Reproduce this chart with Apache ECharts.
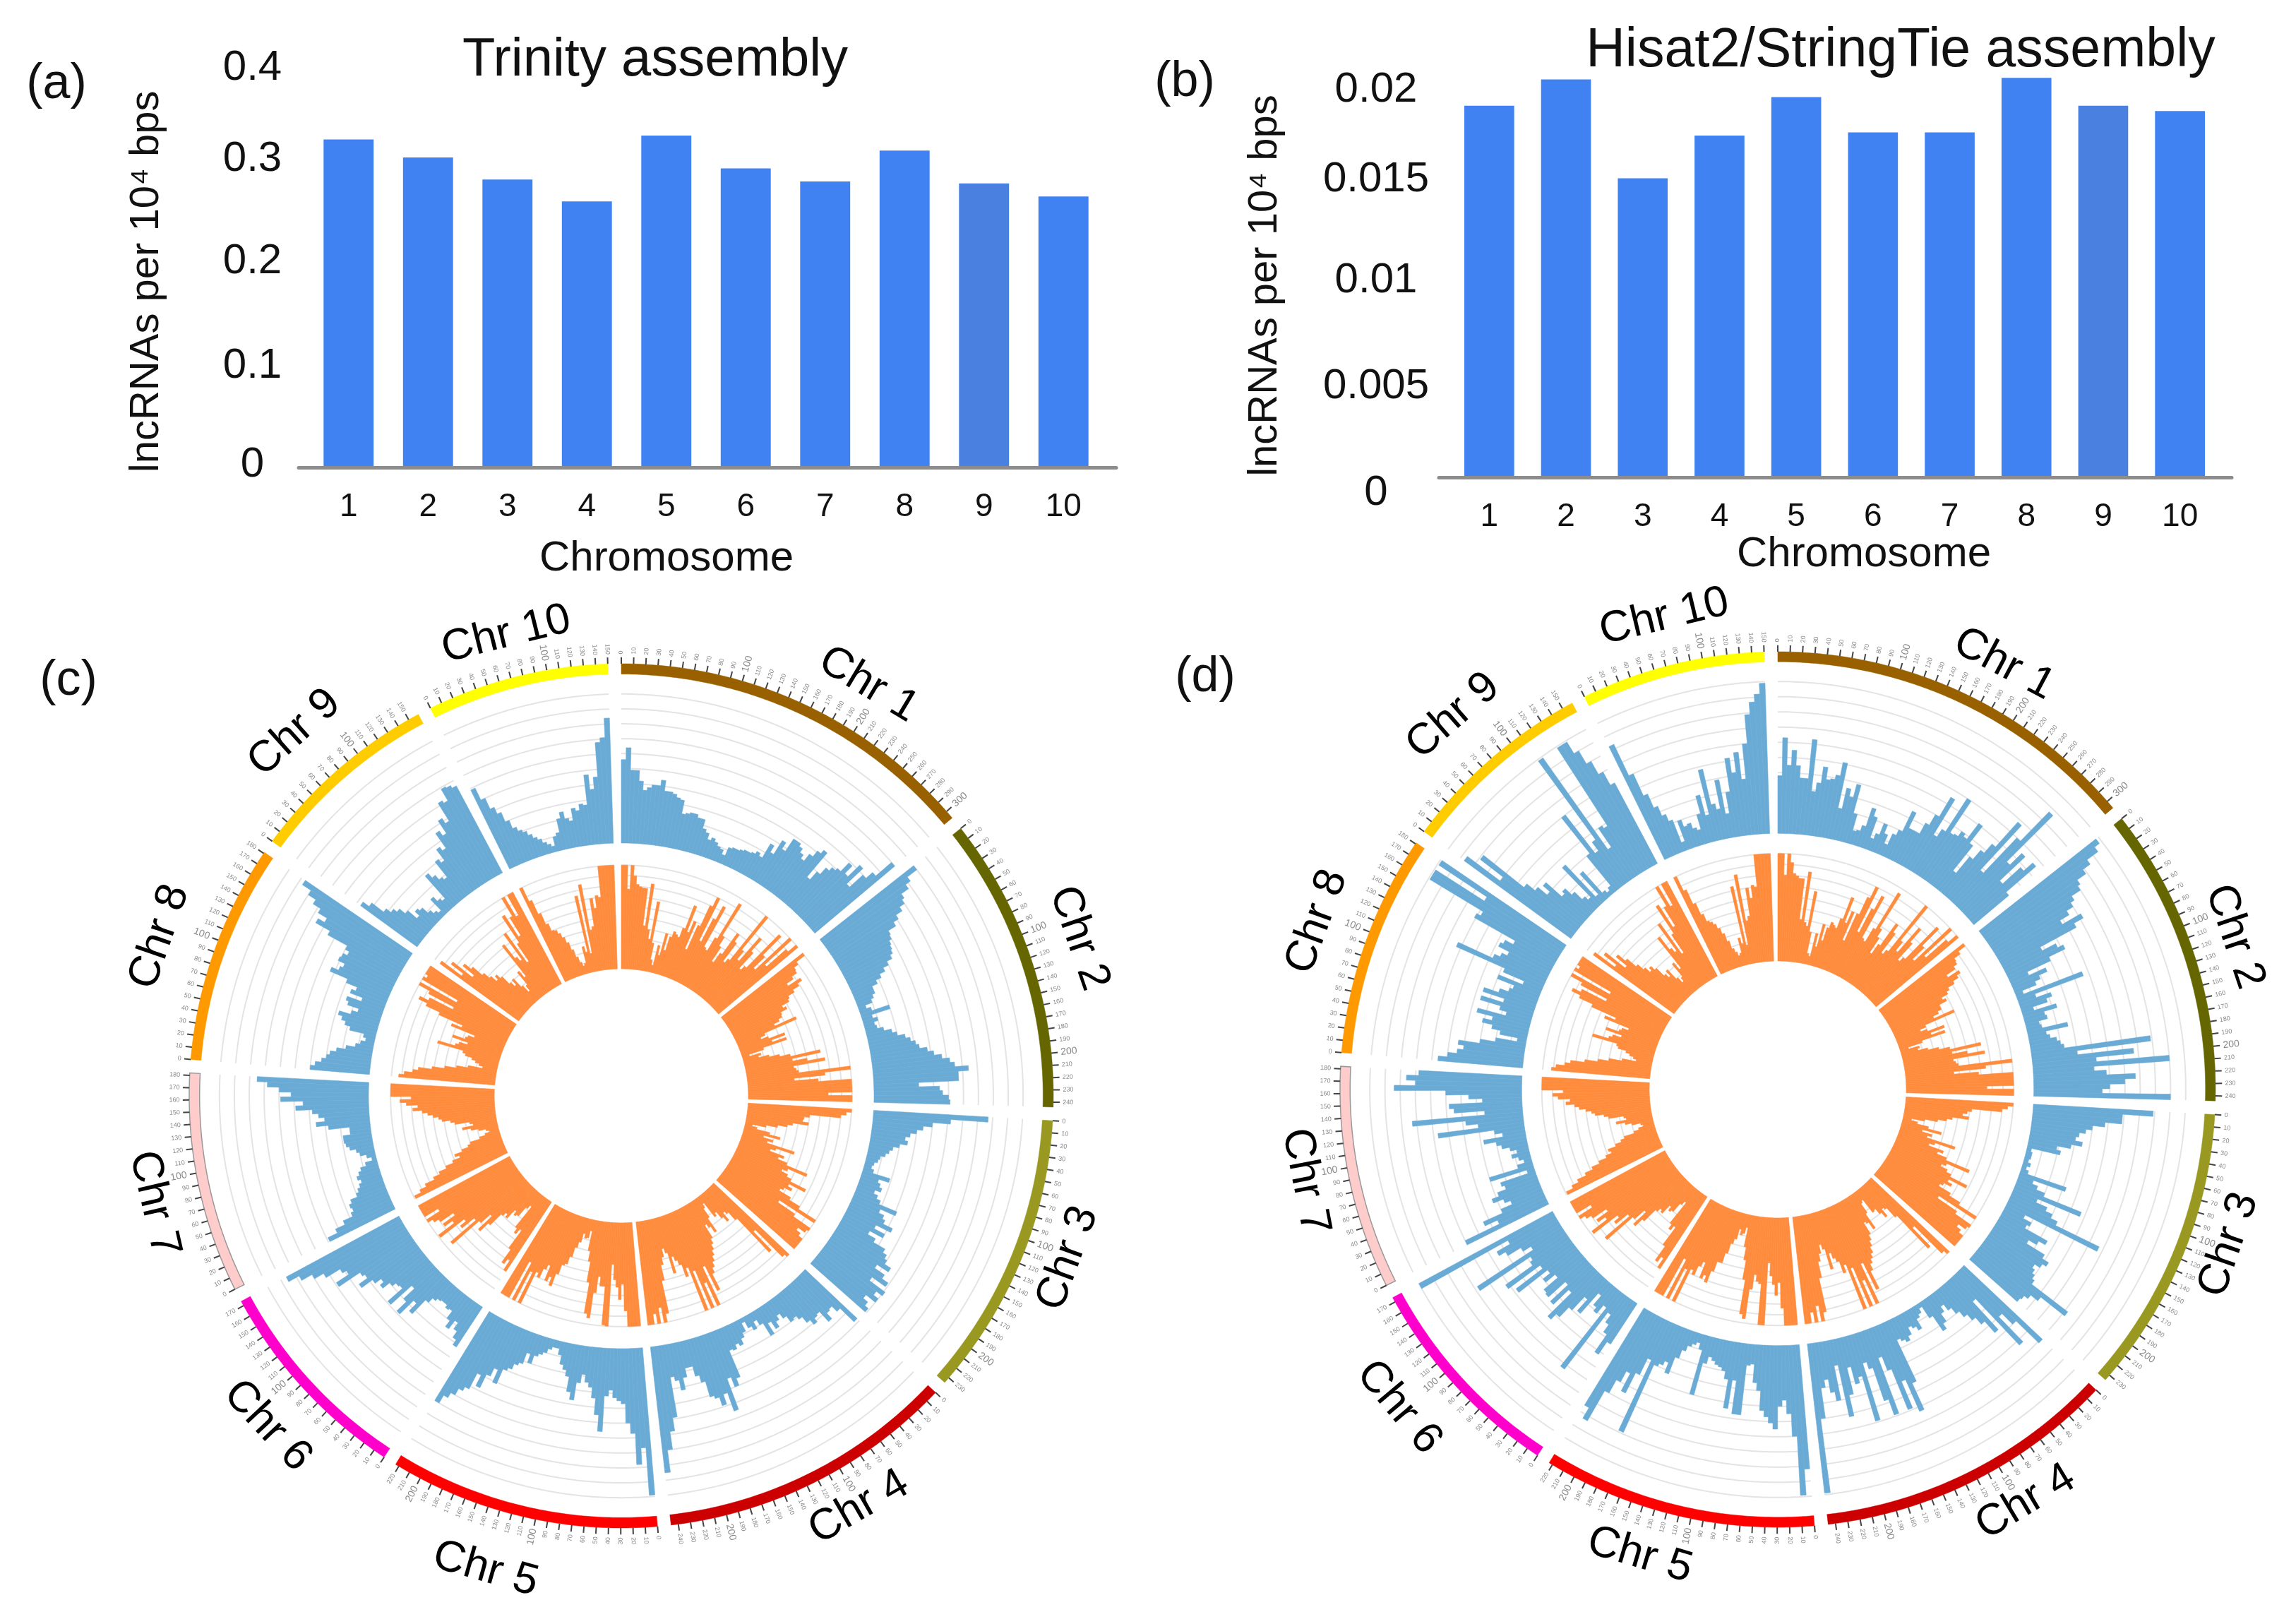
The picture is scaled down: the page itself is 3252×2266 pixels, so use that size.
<!DOCTYPE html>
<html><head><meta charset="utf-8">
<script src="https://cdn.jsdelivr.net/npm/echarts@6/dist/echarts.min.js"></script>
<style>html,body{margin:0;padding:0;background:#fff}#c{width:3252px;height:2266px}</style></head>
<body><div id="c"></div>
<script>
const categories = ['1','2','3','4','5','6','7','8','9','10'];
const trinityValues = [0.328,0.310,0.288,0.266,0.332,0.299,0.286,0.317,0.284,0.271];
const hisatValues = [0.01843,0.01974,0.01483,0.01695,0.01886,0.01711,0.01711,0.01982,0.01843,0.01817];
const trinityTicks = [0,0.1,0.2,0.3,0.4];
const hisatTicks = [0,0.005,0.01,0.015,0.02];
const chrNames = ['Chr 1','Chr 2','Chr 3','Chr 4','Chr 5','Chr 6','Chr 7','Chr 8','Chr 9','Chr 10'];
const chrLengths = [307,244,235,246,223,174,182,181,159,150];
const chrColors = ['#996000','#666600','#999922','#CC0000','#FF0000','#FF00CC','#FFCCCC','#FF9900','#FFCC00','#FFFF00'];

// Track heights in percent of the track, one list per chromosome, clockwise.
const cBlue = [
[56,64,49,49,42,36,38,40,40,44,37,37,36,34,33,24,25,26,26,24,24,18,16,12,14,12,10,9,6,12,13,13,14,15,15,16,18,16,27,22,33,28,38,38,36,33,30,36,41,44,23,30,36,39,41,49,42,53,38,50,56,70],
[80,72,68,62,60,56,51,47,41,40,38,37,36,34,30,26,22,18,14,14,12,10,5,8,20,7,10,7,8,12,17,20,25,28,31,33,38,42,47,52,55,64,57,57,30,44,46,50,51],
[77,52,40,34,30,26,23,25,20,16,14,12,9,8,6,5,7,19,12,14,16,12,15,18,31,20,24,26,33,22,30,20,26,35,38,40,45,36,44,49,38,51,46,50,42,46,49],
[48,35,30,31,36,27,28,31,27,22,19,20,15,11,14,18,12,20,10,6,11,8,3,9,12,16,14,17,16,35,40,33,55,42,49,43,41,30,25,18,18,24,32,25,22,49,58,70,85],
[99,67,78,57,50,37,35,33,28,32,56,45,34,27,24,19,25,37,32,22,18,15,9,5,5,7,10,12,14,20,14,22,24,28,30,41,32,38,48,40,52,55,60,64,70],
[32,28,23,18,25,20,14,15,13,13,14,16,20,33,26,39,30,20,39,26,27,30,36,33,38,47,40,42,59,49,52,63,70,78,86],
[49,42,35,28,26,27,25,20,18,16,14,16,14,12,8,3,6,10,12,16,18,19,19,14,14,28,36,30,34,38,49,44,59,52,60,68,75],
[40,37,33,30,28,24,18,12,9,6,8,18,22,25,28,20,16,24,26,16,25,22,30,43,38,36,41,40,37,40,55,66,61,68,74,80,87],
[47,42,32,28,25,20,12,16,14,9,6,4,14,10,8,28,24,20,18,31,28,37,34,46,42,52,48,62,60,69,68,66],
[59,50,42,37,30,24,21,19,16,13,11,8,6,4,10,12,21,25,20,18,26,24,28,27,47,37,45,68,71,84]
];
const cOrange = [
[100,100,77,100,90,82,80,79,79,43,84,40,31,68,28,12,7,27,18,40,24,38,44,42,40,50,74,48,60,32,58,80,90,45,70,85,42,40,55,95,60,50,34,45,70,62,40,45,100,60,50,80,65,45,50,95,70,55,100,65,90,100],
[100,90,85,84,78,70,84,79,72,65,63,55,58,51,50,46,40,62,28,23,30,46,32,46,22,7,18,15,25,35,45,74,46,60,77,46,48,50,100,75,45,68,100,100,100,100,77,100,100],
[100,95,90,60,55,54,60,45,40,31,20,7,12,25,36,20,30,25,53,35,30,45,40,50,72,53,48,55,60,77,60,65,58,55,68,80,100,60,80,100,98,90,95,100,100,100,100],
[100,97,60,85,40,30,27,36,30,22,25,8,12,22,37,30,26,40,45,50,55,60,65,70,87,60,100,75,100,60,100,55,63,50,45,40,56,35,30,38,45,60,92,100,85,100,90,100,100],
[100,100,100,100,85,59,74,62,55,40,100,99,62,62,53,69,94,90,60,40,30,11,18,19,15,24,30,40,48,50,60,73,65,70,55,60,70,66,100,68,100,60,100,100,100],
[80,69,75,60,39,45,40,15,19,30,32,28,39,36,40,55,66,48,60,94,62,77,70,99,80,89,75,90,95,100,85,100,100,100,100],
[99,92,85,75,68,60,52,44,48,40,33,30,20,14,9,12,19,26,34,23,26,40,44,52,55,60,65,70,79,74,85,91,80,100,100,100,100],
[93,88,80,75,62,50,39,28,14,18,22,26,33,36,62,45,42,34,50,38,36,30,55,45,70,85,94,85,60,88,100,60,100,97,100,100,100],
[94,70,85,61,75,67,55,48,41,45,40,30,25,31,20,12,18,33,25,62,45,40,70,35,55,85,60,80,100,78,100,100],
[100,85,70,58,50,49,45,40,34,26,18,12,8,10,26,20,75,18,85,40,43,70,60,72,70,100,100,100,100,100]
];
const dBlue = [
[38,63,45,55,45,37,37,63,29,35,46,38,39,42,51,21,35,30,39,20,9,10,14,27,22,8,12,20,14,8,16,20,35,24,24,24,32,40,55,28,34,60,35,36,40,38,51,37,16,30,38,46,68,28,60,87,44,55,32,48,56,30],
[98,94,85,79,72,70,63,60,55,48,62,55,28,38,42,30,13,25,19,15,5,46,12,22,18,8,23,14,15,9,10,27,12,14,18,20,22,79,30,67,42,90,40,48,67,60,50,45,90],
[79,59,59,48,40,36,32,30,35,28,19,22,3,4,4,3,5,3,5,32,10,14,20,47,17,25,30,35,67,14,20,18,35,30,24,38,43,40,36,38,40,42,72,52,46,43,42],
[71,50,40,63,21,46,36,30,25,20,15,10,14,20,24,12,3,6,8,15,12,10,15,18,16,14,44,63,40,59,30,20,59,48,25,20,59,28,32,20,38,52,17,40,34,25,30,50,99],
[82,99,60,45,36,40,55,51,47,43,30,25,13,14,47,47,25,44,25,20,18,17,15,13,18,40,10,6,8,10,14,20,32,25,28,30,79,28,40,55,42,50,60,83,75],
[32,42,28,22,16,63,14,21,18,10,28,18,30,39,44,22,36,20,35,34,22,30,24,48,26,52,30,28,68,24,30,40,45,35,100],
[60,35,44,30,22,26,33,28,22,24,5,30,10,5,8,12,8,12,17,20,28,15,20,57,30,38,73,25,45,48,26,35,50,84,70,76,68],
[56,50,44,40,44,30,20,6,18,24,31,25,36,17,22,36,21,36,26,20,18,30,13,28,63,38,34,30,38,36,30,61,58,99,99,61,99],
[87,60,79,45,38,30,36,22,24,18,11,8,35,6,24,5,3,5,30,60,28,35,99,25,40,38,99,99,90,80,70,60],
[83,60,44,34,27,22,6,20,15,16,12,10,20,32,18,48,24,20,39,16,30,52,42,55,37,60,79,87,92,99]
];
const dOrange = [
[100,100,80,100,92,82,80,78,78,40,85,38,35,68,30,10,8,30,18,40,25,38,44,42,40,50,72,48,60,32,60,78,90,45,70,85,42,40,55,95,58,50,34,45,70,62,40,45,100,60,50,80,65,45,50,92,70,55,100,65,90,100],
[100,92,85,84,80,70,82,78,72,65,62,55,58,50,50,46,40,60,30,24,30,46,32,45,22,8,18,16,25,35,45,74,46,60,76,46,48,50,100,75,45,68,100,100,100,100,75,100,100],
[100,95,90,62,58,54,60,45,40,32,20,8,14,25,38,20,30,26,54,35,30,45,40,50,74,52,48,55,60,78,60,65,58,55,68,80,100,60,82,100,98,90,95,100,100,100,100],
[100,96,60,84,42,30,28,36,30,24,25,10,12,22,38,30,28,40,45,50,56,60,64,70,88,60,100,75,100,60,100,55,62,50,46,40,55,35,30,38,45,60,92,100,85,100,90,100,100],
[100,100,100,100,84,60,72,62,54,42,100,100,62,60,54,68,96,92,60,42,30,12,18,20,15,25,30,40,50,50,60,72,66,70,55,60,70,66,100,68,100,60,100,100,100],
[80,70,76,60,40,45,40,16,20,30,32,28,38,36,40,55,64,48,60,92,62,76,70,98,80,88,75,90,95,100,85,100,100,100,100],
[99,92,85,76,68,60,52,46,48,40,34,30,20,15,10,12,20,26,34,24,26,40,44,52,55,60,66,70,78,74,85,90,80,100,100,100,100],
[92,88,80,75,62,50,40,28,15,18,22,26,34,36,60,45,42,34,50,38,36,30,55,45,70,84,93,85,60,88,100,60,100,97,100,100,100],
[93,70,85,62,75,66,55,48,42,45,40,30,26,32,20,14,18,33,25,60,45,40,70,35,55,85,60,80,100,78,100,100],
[100,85,70,58,50,48,45,40,34,26,18,14,10,12,26,20,74,18,84,40,44,70,60,72,70,100,100,100,100,100]
];

// Layout, separate from the data.
const FONT = '"Liberation Sans", Arial, sans-serif';
const GAP_MB = 11.06, genomeTotal = chrLengths.reduce((a,b)=>a+b,0) + GAP_MB*chrLengths.length;
const chrStart = []; chrLengths.reduce((p,l,i)=>{chrStart[i]=p;return p+l+GAP_MB;},0);
const panels = [
 {cx:880,cy:1552,R:612,blue:[58.5,93],orange:[29.4,53.4],ring:[97.6,100],blueData:cBlue,orangeData:cOrange,
  labelR:[111,112,110,110,114,112,111,113,113,110],labelA:[31,71,110,150,196,227,257,289,318,346]},
 {cx:2518,cy:1543,R:620,blue:[58.5,93.2],orange:[29.35,53.9],ring:[97.7,100],blueData:dBlue,orangeData:dOrange,
  labelR:[110,110,109,110,111,113,110,112,113,111],labelA:[28,71.5,109,149,196.5,230,259,290,319,346.5]}
];
const degToMb = a => a/360*genomeTotal;
const mbToDeg = m => m/genomeTotal*360;

function arc(api,r,s,e,rev){
  const n = Math.max(2,Math.ceil(mbToDeg(e-s)/0.5)), pts=[];
  for(let i=0;i<=n;i++){const t=rev?1-i/n:i/n; pts.push(api.coord([r,s+(e-s)*t]));}
  return pts;
}
function barSeries(pi,track,data,color){
  const [r0,r1]=panels[pi][track], rows=[];
  data.forEach((list,c)=>list.forEach((v,b)=>rows.push([c,b,v,list.length])));
  return {type:'custom',coordinateSystem:'polar',polarIndex:pi,silent:true,z:5,clip:false,
    data:rows,encode:{},
    renderItem(p,api){
      const c=api.value(0),b=api.value(1),v=api.value(2),n=api.value(3);
      const w=chrLengths[c]/n,s=chrStart[c]+b*w,e=s+w,rr=r0+(r1-r0)*v/100;
      return {type:'polygon',shape:{points:[api.coord([r0,s]),api.coord([rr,s]),api.coord([rr,e]),api.coord([r0,e])]},
        style:{fill:color,stroke:color,lineWidth:0.6}};
    }};
}
function gridSeries(pi){
  const P=panels[pi], rows=[];
  chrLengths.forEach((l,c)=>{for(let k=1;k<=10;k++){rows.push([c,P.blue[0]+(P.blue[1]-P.blue[0])*k/10]);rows.push([c,P.orange[0]+(P.orange[1]-P.orange[0])*k/10]);}});
  return {type:'custom',coordinateSystem:'polar',polarIndex:pi,silent:true,z:3,clip:false,data:rows,encode:{},
    renderItem(p,api){const c=api.value(0),r=api.value(1);
      return {type:'polyline',shape:{points:arc(api,r,chrStart[c],chrStart[c]+chrLengths[c])},style:{stroke:'#E4E4E4',lineWidth:2,fill:null}};}};
}
function ringSeries(pi){
  const P=panels[pi];
  return {type:'custom',coordinateSystem:'polar',polarIndex:pi,silent:true,z:6,clip:false,data:chrLengths.map((l,i)=>[i]),encode:{},
    renderItem(p,api){const c=api.value(0),s=chrStart[c],e=s+chrLengths[c];
      return {type:'polygon',shape:{points:arc(api,P.ring[1],s,e).concat(arc(api,P.ring[0],s,e,true))},
        style:{fill:chrColors[c],stroke:c===6?'#999':chrColors[c],lineWidth:c===6?1.5:0.5}};}};
}
function tickSeries(pi){
  const rows=[];
  chrLengths.forEach((l,c)=>{for(let m=0;m<=l;m+=10)rows.push([c,m]);});
  return {type:'custom',coordinateSystem:'polar',polarIndex:pi,silent:true,z:6,clip:false,data:rows,encode:{},
    renderItem(p,api){
      const c=api.value(0),m=api.value(1),pos=chrStart[c]+m,deg=mbToDeg(pos);
      const a=api.coord([100,pos]),b=api.coord([101.5,pos]),t=api.coord([102.2,pos]);
      const big=m%100===0&&m>0,right=deg<180;
      return {type:'group',children:[
        {type:'line',shape:{x1:a[0],y1:a[1],x2:b[0],y2:b[1]},style:{stroke:'#444',lineWidth:2}},
        {type:'text',x:t[0],y:t[1],rotation:(right?90-deg:270-deg)*Math.PI/180,
         style:{text:String(m),fontFamily:FONT,fontSize:big?14:9,fill:'#8a8a8a',align:right?'left':'right',verticalAlign:'middle'}}
      ]};
    }};
}
function labelSeries(pi){
  const P=panels[pi];
  return {type:'custom',coordinateSystem:'polar',polarIndex:pi,silent:true,z:7,clip:false,data:chrNames.map((n,i)=>[i]),encode:{},
    renderItem(p,api){const i=api.value(0),ang=P.labelA[i],pt=api.coord([P.labelR[i],degToMb(ang)]);
      const rot=(ang>90&&ang<270)?180-ang:-ang;
      return {type:'text',x:pt[0],y:pt[1],rotation:rot*Math.PI/180,
        style:{text:chrNames[i],fontFamily:FONT,fontSize:62,fill:'#000',align:'center',verticalAlign:'middle'}};}};
}
function barColors(v,i){return i===8?'#4A80E0':'#4082F2';}

// The printed tick labels sit slightly off the even scale; each one is nudged (px, + = down).
function tickLabel(ticks,nudge,margin,digits){
  const rich={};
  ticks.forEach((t,i)=>{const d=nudge[i];
    rich['t'+i]={fontFamily:FONT,fontSize:60,color:'#111',padding:d>=0?[2*d,0,0,0]:[0,0,-2*d,0]};});
  return {align:'center',margin,rich,fontFamily:FONT,fontSize:60,color:'#111',
    formatter:v=>{const i=ticks.findIndex(t=>Math.abs(t-v)<1e-9);return '{t'+i+'|'+v+'}';}};
}

const option={
 animation:false,backgroundColor:'#fff',
 title:[
  {text:'Trinity assembly',left:928,top:86,textAlign:'center',textVerticalAlign:'middle',padding:0,textStyle:{fontFamily:FONT,fontSize:76,fontWeight:'normal',color:'#111'}},
  {text:'Hisat2/StringTie assembly',left:2692,top:73,textAlign:'center',textVerticalAlign:'middle',padding:0,textStyle:{fontFamily:FONT,fontSize:77,fontWeight:'normal',color:'#111'}},
  {text:'(a)',left:80,top:120,textAlign:'center',textVerticalAlign:'middle',padding:0,textStyle:{fontFamily:FONT,fontSize:70,fontWeight:'normal',color:'#111'}},
  {text:'(b)',left:1678,top:117,textAlign:'center',textVerticalAlign:'middle',padding:0,textStyle:{fontFamily:FONT,fontSize:70,fontWeight:'normal',color:'#111'}},
  {text:'(c)',left:97,top:965,textAlign:'center',textVerticalAlign:'middle',padding:0,textStyle:{fontFamily:FONT,fontSize:70,fontWeight:'normal',color:'#111'}},
  {text:'(d)',left:1707,top:960,textAlign:'center',textVerticalAlign:'middle',padding:0,textStyle:{fontFamily:FONT,fontSize:70,fontWeight:'normal',color:'#111'}}
 ],
 grid:[
  {left:437.5,top:95.6,width:1125,height:566.4},
  {left:2055,top:105,width:1087,height:571},
  {left:423,top:95.6,width:1158,height:566.4},
  {left:2038,top:105,width:1123,height:571}
 ],
 xAxis:[
  {gridIndex:0,type:'category',data:categories,axisLine:{show:false},axisTick:{show:false},
   axisLabel:{fontFamily:FONT,fontSize:46,color:'#111',margin:33},
   name:'Chromosome',nameLocation:'middle',nameGap:99,nameTextStyle:{fontFamily:FONT,fontSize:60,color:'#111',padding:[0,112,0,0]}},
  {gridIndex:1,type:'category',data:categories,axisLine:{show:false},axisTick:{show:false},
   axisLabel:{fontFamily:FONT,fontSize:46,color:'#111',margin:33},
   name:'Chromosome',nameLocation:'middle',nameGap:72,nameTextStyle:{fontFamily:FONT,fontSize:60,color:'#111',padding:[0,0,0,83]}},
  {gridIndex:2,type:'value',z:4,min:0,max:1,axisLine:{show:true,lineStyle:{color:'#8C8C8C',width:5}},axisTick:{show:false},axisLabel:{show:false},splitLine:{show:false}},
  {gridIndex:3,type:'value',z:4,min:0,max:1,axisLine:{show:true,lineStyle:{color:'#8C8C8C',width:5}},axisTick:{show:false},axisLabel:{show:false},splitLine:{show:false}}
 ],
 yAxis:[
  {gridIndex:0,type:'value',min:0,max:0.4,interval:0.1,axisLine:{show:false},axisTick:{show:false},splitLine:{show:false},
   axisLabel:tickLabel(trinityTicks,[-4,-2,-8,-12,1],80),
   name:'lncRNAs per 10\u2074 bps',nameLocation:'middle',nameRotate:90,nameGap:201,nameTextStyle:{fontFamily:FONT,fontSize:58,color:'#111',padding:[0,40,0,0]}},
  {gridIndex:1,type:'value',min:0,max:0.02,interval:0.005,axisLine:{show:false},axisTick:{show:false},splitLine:{show:false},
   axisLabel:tickLabel(hisatTicks,[22,14,7,7,22],106),
   name:'lncRNAs per 10\u2074 bps',nameLocation:'middle',nameRotate:90,nameGap:234,nameTextStyle:{fontFamily:FONT,fontSize:58,color:'#111',padding:[0,28,0,0]}},
  {gridIndex:2,show:false,type:'value',min:0,max:1},
  {gridIndex:3,show:false,type:'value',min:0,max:1}
 ],
 polar:panels.map(P=>({center:[P.cx,P.cy],radius:P.R*1.2})),
 angleAxis:panels.map((P,i)=>({polarIndex:i,show:false,type:'value',min:0,max:genomeTotal,startAngle:90,clockwise:true})),
 radiusAxis:panels.map((P,i)=>({polarIndex:i,show:false,type:'value',min:0,max:120})),
 series:[
  {type:'bar',xAxisIndex:0,yAxisIndex:0,barWidth:'63%',silent:true,data:trinityValues.map((v,i)=>({value:v,itemStyle:{color:barColors(v,i)}}))},
  {type:'bar',xAxisIndex:1,yAxisIndex:1,barWidth:'65%',silent:true,data:hisatValues.map((v,i)=>({value:v,itemStyle:{color:barColors(v,i)}}))}
 ]
};
panels.forEach((P,pi)=>{
  option.series.push(gridSeries(pi),barSeries(pi,'blue',P.blueData,'#6AABD6'),barSeries(pi,'orange',P.orangeData,'#FF8C3C'),ringSeries(pi),tickSeries(pi),labelSeries(pi));
});
const chart=echarts.init(document.getElementById('c'),null,{renderer:'canvas',width:3252,height:2266});
chart.setOption(option);
</script></body></html>
